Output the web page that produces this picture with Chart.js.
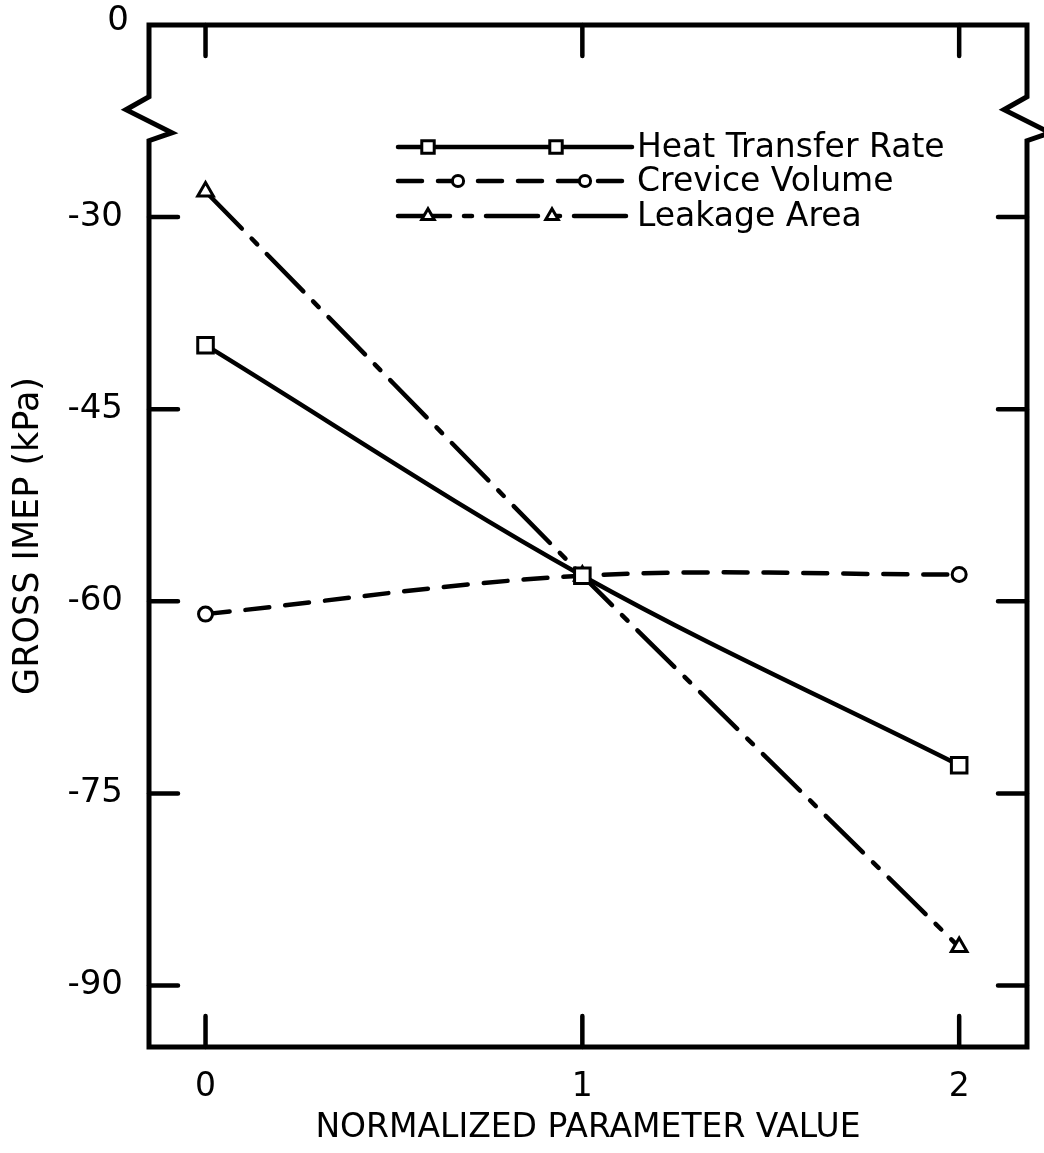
<!DOCTYPE html>
<html>
<head>
<meta charset="utf-8">
<script src="https://cdn.jsdelivr.net/npm/chart.js@4.4.1/dist/chart.umd.min.js"></script>
<style>
  html, body { margin: 0; padding: 0; background: #fff; }
  #wrap { width: 1044px; height: 1153px; }
</style>
</head>
<body>
<div id="wrap"><canvas id="imep" width="1044" height="1153"></canvas></div>
<script>
// normalized parameter value (x) and gross IMEP in kPa (y)
const paramValues = [0, 1, 2];
const heatTransferRate = [-40, -58, -72.8];
const creviceVolume = [-61, -58, -57.9];
const leakageArea = [-28, -58, -87];

const xTickValues = [0, 1, 2];
const yTickValues = [-90, -75, -60, -45, -30];
const yTop = -15;          // top edge of the broken axis, labelled 0
const yTopLabel = '0';
const breakStart = -20.6;  // where the zigzag break begins

const INK = '#000';
const FONT = '"DejaVu Sans", sans-serif';

function points(values) {
    return paramValues.map((x, i) => ({ x: x, y: values[i] }));
}

// frame with axis breaks, inward tick marks and the legend box inside the plot
const framePlugin = {
    id: 'frame',
    afterDatasetsDraw(chart) {
        const ctx = chart.ctx;
        const { left: L, right: R, top: T, bottom: B } = chart.chartArea;
        const xs = chart.scales.x, ys = chart.scales.y;
        const yb = ys.getPixelForValue(breakStart);

        ctx.save();
        ctx.strokeStyle = INK;
        ctx.lineWidth = 5;
        ctx.lineJoin = 'miter';
        ctx.beginPath();
        ctx.moveTo(L, yb);
        ctx.lineTo(L, T);
        ctx.lineTo(R, T);
        ctx.lineTo(R, yb);
        ctx.lineTo(R - 23, yb + 13);
        ctx.lineTo(R + 23, yb + 36);
        ctx.lineTo(R, yb + 44);
        ctx.lineTo(R, B);
        ctx.lineTo(L, B);
        ctx.lineTo(L, yb + 44);
        ctx.lineTo(L + 23, yb + 36);
        ctx.lineTo(L - 23, yb + 13);
        ctx.closePath();
        ctx.stroke();

        ctx.lineCap = 'round';
        ctx.lineWidth = 4.5;
        ctx.beginPath();
        yTickValues.forEach(v => {
            const py = ys.getPixelForValue(v);
            ctx.moveTo(L, py); ctx.lineTo(L + 29, py);
            ctx.moveTo(R, py); ctx.lineTo(R - 29, py);
        });
        xTickValues.forEach(v => {
            const px = xs.getPixelForValue(v);
            ctx.moveTo(px, B); ctx.lineTo(px, B - 31);
            ctx.moveTo(px, T); ctx.lineTo(px, T + 31);
        });
        ctx.stroke();

        // label for the top of the broken axis
        ctx.fillStyle = INK;
        ctx.font = '34px ' + FONT;
        ctx.textAlign = 'right';
        ctx.textBaseline = 'middle';
        ctx.fillText(yTopLabel, L - 20, ys.getPixelForValue(yTop) - 4);

        // legend
        const rowY = [147, 181, 216];
        const markX = [[428, 556], [458, 585], [428, 552]];
        chart.data.datasets.forEach((ds, i) => {
            const y = rowY[i];
            ctx.lineWidth = ds.borderWidth;
            ctx.lineCap = ds.borderCapStyle || 'butt';
            ctx.setLineDash(ds.borderDash || []);
            ctx.beginPath();
            ctx.moveTo(398, y);
            ctx.lineTo(632, y);
            ctx.stroke();
            ctx.setLineDash([]);
            ctx.fillStyle = '#fff';
            ctx.lineWidth = ds.pointBorderWidth;
            markX[i].forEach(mx => {
                Chart.helpers.drawPoint(ctx, {
                    pointStyle: ds.pointStyle,
                    radius: ds.pointRadius * 0.8,
                    rotation: 0,
                    borderWidth: ds.pointBorderWidth
                }, mx, y);
            });
            ctx.fillStyle = INK;
            ctx.font = '33px ' + FONT;
            ctx.textBaseline = 'middle';
            ctx.textAlign = 'left';
            ctx.fillText(ds.label, 637, y + 1);
        });
        ctx.restore();
    }
};

const common = {
    borderColor: INK,
    borderWidth: 4.5,
    borderCapStyle: 'round',
    pointBackgroundColor: '#fff',
    pointBorderColor: INK,
    pointBorderWidth: 3,
    fill: false
};

new Chart(document.getElementById('imep').getContext('2d'), {
    type: 'line',
    data: {
        datasets: [
            Object.assign({}, common, {
                label: 'Heat Transfer Rate',
                data: points(heatTransferRate),
                borderDash: [],
                pointStyle: 'rect',
                pointRadius: 11,
                tension: 0.35
            }),
            Object.assign({}, common, {
                label: 'Crevice Volume',
                data: points(creviceVolume),
                borderDash: [24, 16],
                pointStyle: 'circle',
                pointRadius: 7,
                tension: 0.35
            }),
            Object.assign({}, common, {
                label: 'Leakage Area',
                data: points(leakageArea),
                borderDash: [52, 14, 8, 14],
                pointStyle: 'triangle',
                pointRadius: 9,
                tension: 0.15
            })
        ]
    },
    options: {
        responsive: false,
        animation: false,
        devicePixelRatio: 1,
        layout: { padding: { top: 25, right: 17, left: 0, bottom: 0 } },
        plugins: {
            legend: { display: false },
            tooltip: { enabled: false }
        },
        scales: {
            x: {
                type: 'linear',
                min: -0.15,
                max: 2.18,
                afterBuildTicks: s => { s.ticks = xTickValues.map(v => ({ value: v })); },
                afterFit: s => { s.height = 106; s.paddingLeft = 0; s.paddingRight = 0; },
                grid: { display: false },
                border: { display: false },
                ticks: {
                    color: INK,
                    font: { family: FONT, size: 33 },
                    padding: 13,
                    maxRotation: 0
                },
                title: {
                    display: true,
                    text: 'NORMALIZED PARAMETER VALUE',
                    color: INK,
                    font: { family: FONT, size: 33 },
                    padding: { top: 0, bottom: 5 }
                }
            },
            y: {
                type: 'linear',
                min: -94.8,
                max: yTop,
                afterBuildTicks: s => { s.ticks = yTickValues.map(v => ({ value: v })); },
                afterFit: s => { s.width = 149; s.paddingTop = 0; s.paddingBottom = 0; },
                grid: { display: false },
                border: { display: false },
                ticks: {
                    color: INK,
                    font: { family: FONT, size: 34 },
                    padding: 18
                },
                title: {
                    display: true,
                    text: 'GROSS IMEP (kPa)',
                    color: INK,
                    font: { family: FONT, size: 35 },
                    padding: { top: 8, bottom: 0 }
                }
            }
        }
    },
    plugins: [framePlugin]
});
</script>
</body>
</html>
